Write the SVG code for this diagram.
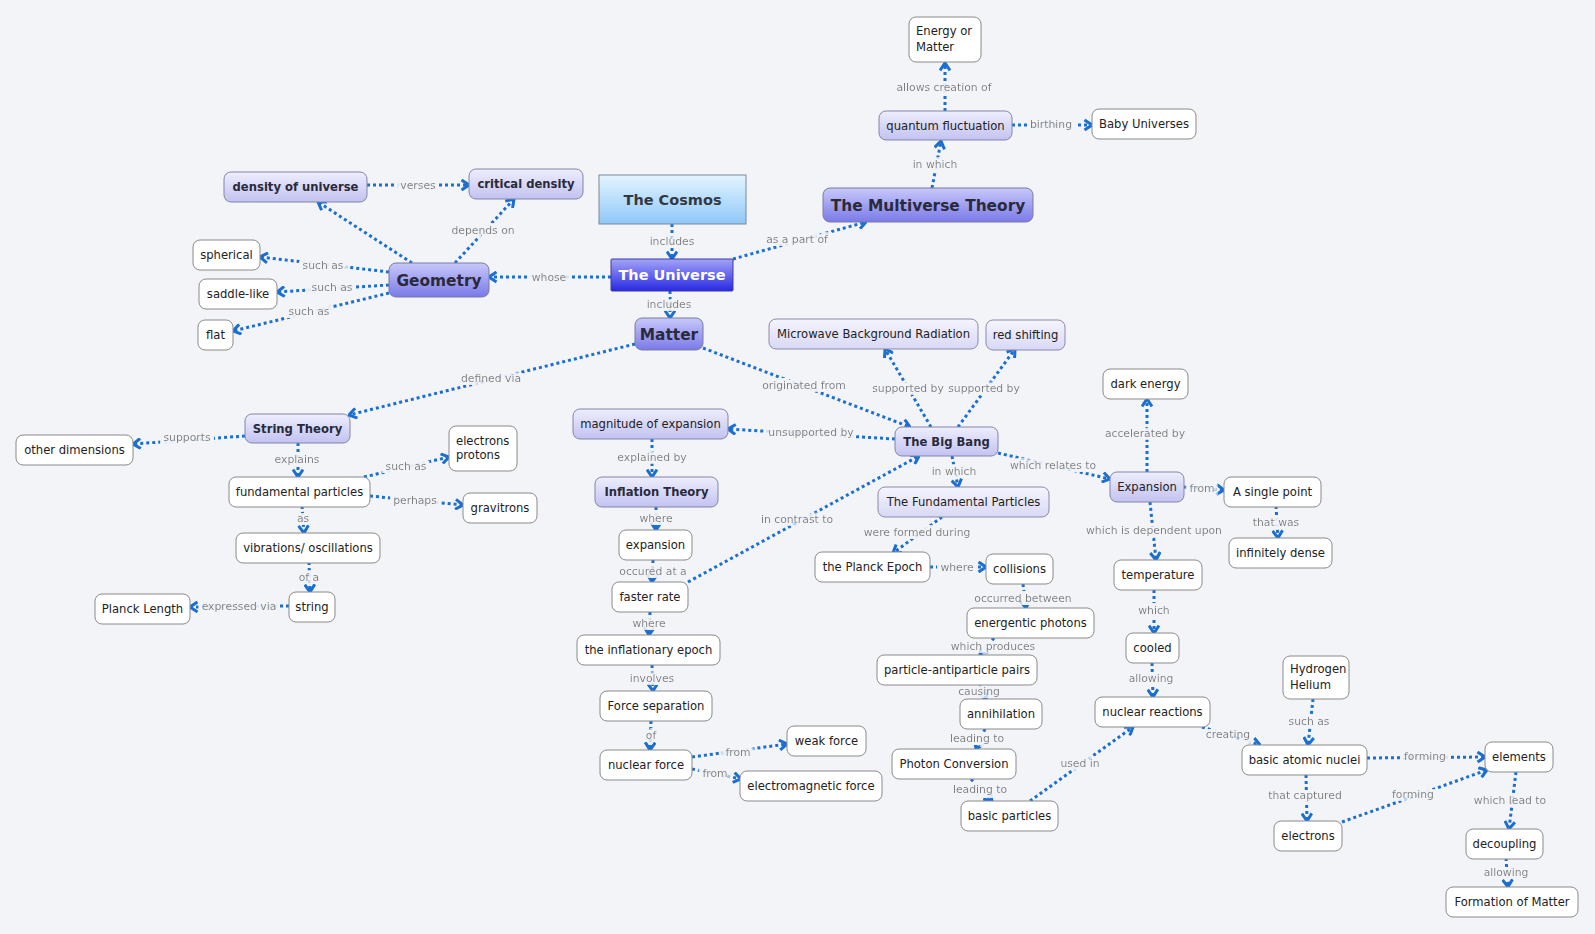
<svg xmlns="http://www.w3.org/2000/svg" width="1595" height="934" viewBox="0 0 1595 934">
<defs>
<linearGradient id="gp" x1="0" y1="0" x2="0" y2="1"><stop offset="0" stop-color="#eeeefd"/><stop offset="1" stop-color="#c2c2f1"/></linearGradient>
<linearGradient id="gpl" x1="0" y1="0" x2="0" y2="1"><stop offset="0" stop-color="#f5f5fe"/><stop offset="1" stop-color="#d8d8f6"/></linearGradient>
<linearGradient id="gpp" x1="0" y1="0" x2="0" y2="1"><stop offset="0" stop-color="#c8c8fb"/><stop offset="1" stop-color="#7a7ae8"/></linearGradient>
<linearGradient id="gu" x1="0" y1="0" x2="0" y2="1"><stop offset="0" stop-color="#a4a4f8"/><stop offset="1" stop-color="#2828e4"/></linearGradient>
<linearGradient id="gc" x1="0" y1="0" x2="0" y2="1"><stop offset="0" stop-color="#e4f4ff"/><stop offset="1" stop-color="#8ec8f8"/></linearGradient>
<filter id="halo" x="-0.2" y="-0.6" width="1.4" height="2.2">
<feMorphology in="SourceAlpha" operator="dilate" radius="4 3" result="d"/>
<feFlood flood-color="#f3f4f8"/>
<feComposite in2="d" operator="in" result="bg"/>
<feMerge><feMergeNode in="bg"/><feMergeNode in="SourceGraphic"/></feMerge>
</filter>
<marker id="a" viewBox="0 0 10 12" refX="9" refY="6" markerWidth="10" markerHeight="12" markerUnits="userSpaceOnUse" orient="auto"><path d="M1.5,1 L9,6 L1.5,11" fill="none" stroke="#1a6fd0" stroke-width="3" stroke-dasharray="none"/></marker>
</defs>
<style>
.n{fill:#fff;stroke:#8a8a8a;stroke-width:1}
.p{fill:url(#gp);stroke:#8484a8;stroke-width:1}
.pl{fill:url(#gpl);stroke:#8a8aa8;stroke-width:1}
.pp{fill:url(#gpp);stroke:#7a7aa0;stroke-width:1}
.t{font-family:"DejaVu Sans",Verdana,sans-serif;font-size:11.6px;fill:#222;text-anchor:middle}
.tl{font-family:"DejaVu Sans",Verdana,sans-serif;font-size:11.6px;fill:#222}
.b{font-weight:bold;fill:#2a2a3a}
.big{font-size:15.4px}
.c{fill:none;stroke:#1a6fd0;stroke-width:3;stroke-dasharray:3 3;marker-end:url(#a)}
.l{font-family:"DejaVu Sans",Verdana,sans-serif;font-size:10.8px;fill:#7a7a7a;text-anchor:middle;filter:url(#halo)}
</style>
<rect width="1595" height="934" fill="#f3f4f8"/>
<g id="connectors">
<path class="c" d="M945,111 L945,63"/>
<path class="c" d="M1012,125 L1092,125"/>
<path class="c" d="M932,188 L941,141"/>
<path class="c" d="M733,259 L866,222"/>
<path class="c" d="M672,224 L672,259"/>
<path class="c" d="M670,291 L670,318"/>
<path class="c" d="M611,277 L489,277"/>
<path class="c" d="M412,263 L318,202"/>
<path class="c" d="M455,263 L514,199"/>
<path class="c" d="M367,185 L469,185"/>
<path class="c" d="M389,272 L260,257"/>
<path class="c" d="M389,285 L277,292"/>
<path class="c" d="M389,293 L233,331"/>
<path class="c" d="M635,344 L349,415"/>
<path class="c" d="M703,348 L910,427"/>
<path class="c" d="M931,427 L885,349"/>
<path class="c" d="M958,427 L1015,349"/>
<path class="c" d="M895,439 L728,429"/>
<path class="c" d="M652,439 L652,477"/>
<path class="c" d="M656,507 L656,530"/>
<path class="c" d="M653,560 L652,582"/>
<path class="c" d="M688,582 L919,456"/>
<path class="c" d="M650,612 L649,635"/>
<path class="c" d="M652,665 L653,691"/>
<path class="c" d="M651,721 L650,750"/>
<path class="c" d="M692,757 L787,744"/>
<path class="c" d="M692,769 L741,779"/>
<path class="c" d="M245,436 L133,444"/>
<path class="c" d="M298,443 L298,477"/>
<path class="c" d="M364,477 L449,457"/>
<path class="c" d="M370,496 L463,505"/>
<path class="c" d="M302,506 L304,533"/>
<path class="c" d="M309,562 L310,592"/>
<path class="c" d="M289,606 L190,607"/>
<path class="c" d="M952,456 L958,487"/>
<path class="c" d="M942,517 L893,553"/>
<path class="c" d="M930,567 L986,567"/>
<path class="c" d="M1023,584 L1026,608"/>
<path class="c" d="M994,638 L980,655"/>
<path class="c" d="M980,685 L986,699"/>
<path class="c" d="M985,729 L976,749"/>
<path class="c" d="M971,779 L992,801"/>
<path class="c" d="M1030,801 L1133,727"/>
<path class="c" d="M998,453 L1110,479"/>
<path class="c" d="M1147,472 L1147,399"/>
<path class="c" d="M1184,487 L1224,490"/>
<path class="c" d="M1276,506 L1278,538"/>
<path class="c" d="M1150,502 L1156,560"/>
<path class="c" d="M1154,590 L1154,633"/>
<path class="c" d="M1152,663 L1153,697"/>
<path class="c" d="M1202,727 L1260,745"/>
<path class="c" d="M1313,699 L1308,745"/>
<path class="c" d="M1367,758 L1485,757"/>
<path class="c" d="M1306,775 L1307,821"/>
<path class="c" d="M1342,822 L1487,770"/>
<path class="c" d="M1516,772 L1509,829"/>
<path class="c" d="M1506,858 L1508,887"/>
<text class="l" x="944" y="91">allows creation of</text>
<text class="l" x="1051" y="128">birthing</text>
<text class="l" x="935" y="168">in which</text>
<text class="l" x="797" y="243">as a part of</text>
<text class="l" x="672" y="245">includes</text>
<text class="l" x="669" y="308">includes</text>
<text class="l" x="549" y="281">whose</text>
<text class="l" x="483" y="234">depends on</text>
<text class="l" x="418" y="189">verses</text>
<text class="l" x="323" y="269">such as</text>
<text class="l" x="332" y="291">such as</text>
<text class="l" x="309" y="315">such as</text>
<text class="l" x="491" y="382">defined via</text>
<text class="l" x="804" y="389">originated from</text>
<text class="l" x="908" y="392">supported by</text>
<text class="l" x="984" y="392">supported by</text>
<text class="l" x="811" y="436">unsupported by</text>
<text class="l" x="652" y="461">explained by</text>
<text class="l" x="656" y="522">where</text>
<text class="l" x="653" y="575">occured at a</text>
<text class="l" x="797" y="523">in contrast to</text>
<text class="l" x="649" y="627">where</text>
<text class="l" x="652" y="682">involves</text>
<text class="l" x="651" y="739">of</text>
<text class="l" x="738" y="756">from</text>
<text class="l" x="715" y="777">from</text>
<text class="l" x="187" y="441">supports</text>
<text class="l" x="297" y="463">explains</text>
<text class="l" x="406" y="470">such as</text>
<text class="l" x="415" y="504">perhaps</text>
<text class="l" x="303" y="522">as</text>
<text class="l" x="309" y="581">of a</text>
<text class="l" x="239" y="610">expressed via</text>
<text class="l" x="954" y="475">in which</text>
<text class="l" x="917" y="536">were formed during</text>
<text class="l" x="957" y="571">where</text>
<text class="l" x="1023" y="602">occurred between</text>
<text class="l" x="993" y="650">which produces</text>
<text class="l" x="979" y="695">causing</text>
<text class="l" x="977" y="742">leading to</text>
<text class="l" x="980" y="793">leading to</text>
<text class="l" x="1080" y="767">used in</text>
<text class="l" x="1053" y="469">which relates to</text>
<text class="l" x="1145" y="437">accelerated by</text>
<text class="l" x="1202" y="492">from</text>
<text class="l" x="1276" y="526">that was</text>
<text class="l" x="1154" y="534">which is dependent upon</text>
<text class="l" x="1154" y="614">which</text>
<text class="l" x="1151" y="682">allowing</text>
<text class="l" x="1228" y="738">creating</text>
<text class="l" x="1309" y="725">such as</text>
<text class="l" x="1425" y="760">forming</text>
<text class="l" x="1305" y="799">that captured</text>
<text class="l" x="1413" y="798">forming</text>
<text class="l" x="1510" y="804">which lead to</text>
<text class="l" x="1506" y="876">allowing</text>
</g>
<g id="energy-or-matter"><rect class="n" x="909" y="17" width="72" height="45" rx="7"/><text class="tl" x="916" y="35">Energy or</text><text class="tl" x="916" y="51">Matter</text></g>
<g id="quantum-fluctuation"><rect class="p" x="879" y="111" width="133" height="29" rx="7"/><text class="t" x="945.5" y="129.5">quantum fluctuation</text></g>
<g id="baby-universes"><rect class="n" x="1092" y="109" width="104" height="30" rx="7"/><text class="t" x="1144" y="128">Baby Universes</text></g>
<g id="multiverse-theory"><rect class="pp" x="823" y="188" width="210" height="34" rx="7"/><text class="t b big" x="928" y="210.5">The Multiverse Theory</text></g>
<g id="the-cosmos"><rect x="599" y="175" width="147" height="49" fill="url(#gc)" stroke="#7c8898" stroke-width="1"/><text class="t b" style="font-size:14.5px;fill:#333a44" x="672.5" y="205">The Cosmos</text></g>
<g id="the-universe"><rect x="611" y="259" width="122" height="32" rx="1" fill="url(#gu)" stroke="#3a3aa0" stroke-width="1"/><text class="t b" style="font-size:14.5px;fill:#fff" x="672" y="280">The Universe</text></g>
<g id="density-of-universe"><rect class="p" x="224" y="172" width="143" height="30" rx="7"/><text class="t b" x="295.5" y="191">density of universe</text></g>
<g id="critical-density"><rect class="p" x="469" y="169" width="114" height="30" rx="7"/><text class="t b" x="526" y="188">critical density</text></g>
<g id="geometry"><rect class="pp" x="389" y="263" width="100" height="34" rx="7"/><text class="t b big" x="439" y="285.5">Geometry</text></g>
<g id="spherical"><rect class="n" x="193" y="240" width="67" height="30" rx="7"/><text class="t" x="226.5" y="259">spherical</text></g>
<g id="saddle-like"><rect class="n" x="199" y="279" width="78" height="30" rx="7"/><text class="t" x="238" y="298">saddle-like</text></g>
<g id="flat"><rect class="n" x="198" y="320" width="35" height="30" rx="7"/><text class="t" x="215.5" y="339">flat</text></g>
<g id="matter"><rect class="pp" x="635" y="318" width="68" height="32" rx="7"/><text class="t b big" x="669" y="339.5">Matter</text></g>
<g id="microwave"><rect class="pl" x="769" y="319" width="209" height="30" rx="7"/><text class="t" x="873.5" y="338">Microwave Background Radiation</text></g>
<g id="red-shifting"><rect class="pl" x="986" y="320" width="79" height="30" rx="7"/><text class="t" x="1025.5" y="339">red shifting</text></g>
<g id="magnitude-of-expansion"><rect class="p" x="573" y="409" width="155" height="30" rx="7"/><text class="t" x="650.5" y="428">magnitude of expansion</text></g>
<g id="big-bang"><rect class="p" x="895" y="427" width="103" height="29" rx="7"/><text class="t b" x="946.5" y="445.5">The Big Bang</text></g>
<g id="inflation-theory"><rect class="p" x="595" y="477" width="123" height="30" rx="7"/><text class="t b" x="656.5" y="496">Inflation Theory</text></g>
<g id="fundamental-particles-bb"><rect class="pl" x="878" y="487" width="171" height="30" rx="7"/><text class="t" x="963.5" y="506">The Fundamental Particles</text></g>
<g id="expansion-small"><rect class="n" x="619" y="530" width="73" height="30" rx="7"/><text class="t" x="655.5" y="549">expansion</text></g>
<g id="planck-epoch"><rect class="n" x="815" y="552" width="115" height="30" rx="7"/><text class="t" x="872.5" y="571">the Planck Epoch</text></g>
<g id="collisions"><rect class="n" x="986" y="554" width="67" height="30" rx="7"/><text class="t" x="1019.5" y="573">collisions</text></g>
<g id="faster-rate"><rect class="n" x="612" y="582" width="76" height="30" rx="7"/><text class="t" x="650" y="601">faster rate</text></g>
<g id="inflationary-epoch"><rect class="n" x="577" y="635" width="143" height="30" rx="7"/><text class="t" x="648.5" y="654">the inflationary epoch</text></g>
<g id="force-separation"><rect class="n" x="600" y="691" width="112" height="30" rx="7"/><text class="t" x="656" y="710">Force separation</text></g>
<g id="nuclear-force"><rect class="n" x="600" y="750" width="92" height="30" rx="7"/><text class="t" x="646" y="769">nuclear force</text></g>
<g id="weak-force"><rect class="n" x="787" y="726" width="79" height="30" rx="7"/><text class="t" x="826.5" y="745">weak force</text></g>
<g id="electromagnetic-force"><rect class="n" x="740" y="771" width="142" height="30" rx="7"/><text class="t" x="811" y="790">electromagnetic force</text></g>
<g id="energentic-photons"><rect class="n" x="967" y="608" width="127" height="30" rx="7"/><text class="t" x="1030.5" y="627">energentic photons</text></g>
<g id="particle-pairs"><rect class="n" x="877" y="655" width="160" height="30" rx="7"/><text class="t" x="957" y="674">particle-antiparticle pairs</text></g>
<g id="annihilation"><rect class="n" x="960" y="699" width="82" height="30" rx="7"/><text class="t" x="1001" y="718">annihilation</text></g>
<g id="photon-conversion"><rect class="n" x="892" y="749" width="124" height="30" rx="7"/><text class="t" x="954" y="768">Photon Conversion</text></g>
<g id="basic-particles"><rect class="n" x="961" y="801" width="97" height="30" rx="7"/><text class="t" x="1009.5" y="820">basic particles</text></g>
<g id="string-theory"><rect class="p" x="245" y="414" width="105" height="29" rx="7"/><text class="t b" x="297.5" y="432.5">String Theory</text></g>
<g id="other-dimensions"><rect class="n" x="16" y="435" width="117" height="30" rx="7"/><text class="t" x="74.5" y="454">other dimensions</text></g>
<g id="electrons-protons"><rect class="n" x="449" y="426" width="68" height="45" rx="7"/><text class="tl" x="456" y="445">electrons</text><text class="tl" x="456" y="459">protons</text></g>
<g id="fundamental-particles"><rect class="n" x="229" y="477" width="141" height="30" rx="7"/><text class="t" x="299.5" y="496">fundamental particles</text></g>
<g id="gravitrons"><rect class="n" x="463" y="493" width="74" height="30" rx="7"/><text class="t" x="500" y="512">gravitrons</text></g>
<g id="vibrations"><rect class="n" x="236" y="533" width="144" height="30" rx="7"/><text class="t" x="308" y="552">vibrations/ oscillations</text></g>
<g id="string"><rect class="n" x="289" y="592" width="46" height="30" rx="7"/><text class="t" x="312" y="611">string</text></g>
<g id="planck-length"><rect class="n" x="95" y="594" width="95" height="30" rx="7"/><text class="t" x="142.5" y="613">Planck Length</text></g>
<g id="dark-energy"><rect class="n" x="1103" y="369" width="85" height="30" rx="7"/><text class="t" x="1145.5" y="388">dark energy</text></g>
<g id="expansion"><rect class="p" x="1110" y="472" width="74" height="30" rx="7"/><text class="t" x="1147" y="491">Expansion</text></g>
<g id="single-point"><rect class="n" x="1224" y="477" width="97" height="30" rx="7"/><text class="t" x="1272.5" y="496">A single point</text></g>
<g id="infinitely-dense"><rect class="n" x="1229" y="538" width="103" height="30" rx="7"/><text class="t" x="1280.5" y="557">infinitely dense</text></g>
<g id="temperature"><rect class="n" x="1114" y="560" width="88" height="30" rx="7"/><text class="t" x="1158" y="579">temperature</text></g>
<g id="cooled"><rect class="n" x="1126" y="633" width="53" height="30" rx="7"/><text class="t" x="1152.5" y="652">cooled</text></g>
<g id="nuclear-reactions"><rect class="n" x="1095" y="697" width="115" height="30" rx="7"/><text class="t" x="1152.5" y="716">nuclear reactions</text></g>
<g id="hydrogen-helium"><rect class="n" x="1283" y="656" width="66" height="43" rx="7"/><text class="tl" x="1290" y="673">Hydrogen</text><text class="tl" x="1290" y="689">Helium</text></g>
<g id="basic-atomic-nuclei"><rect class="n" x="1242" y="745" width="125" height="30" rx="7"/><text class="t" x="1304.5" y="764">basic atomic nuclei</text></g>
<g id="elements"><rect class="n" x="1485" y="742" width="68" height="30" rx="7"/><text class="t" x="1519" y="761">elements</text></g>
<g id="electrons"><rect class="n" x="1274" y="821" width="68" height="30" rx="7"/><text class="t" x="1308" y="840">electrons</text></g>
<g id="decoupling"><rect class="n" x="1466" y="829" width="77" height="30" rx="7"/><text class="t" x="1504.5" y="848">decoupling</text></g>
<g id="formation-of-matter"><rect class="n" x="1446" y="887" width="132" height="30" rx="7"/><text class="t" x="1512" y="906">Formation of Matter</text></g>
</svg>
